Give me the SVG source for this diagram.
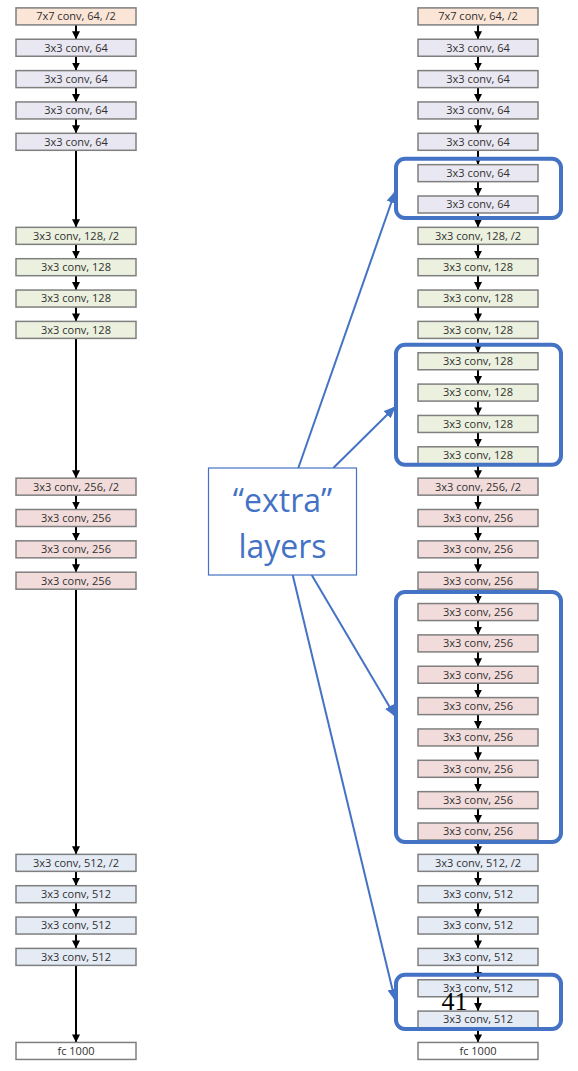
<svg xmlns="http://www.w3.org/2000/svg" width="578" height="1071" viewBox="0 0 578 1071">
<style>
.bx{stroke:#7f7f7f;stroke-width:1.5}
.c7{fill:#fbe5d6}.c64{fill:#e9e7f1}.c128{fill:#ebf1de}.c256{fill:#f2dcdb}.c512{fill:#e4ebf5}.cfc{fill:#ffffff}
.t{font-family:"Open Sans","Liberation Sans",sans-serif;font-size:11px;fill:#303030;text-anchor:middle}
.k{stroke:#000;stroke-width:2;fill:none;marker-end:url(#ah)}
.b{stroke:#4472c4;stroke-width:2;fill:none;marker-end:url(#bh)}
.grp{fill:none;stroke:#4472c4;stroke-width:4}
.lbl{font-family:"Open Sans","Liberation Sans",sans-serif;font-size:32px;fill:#4472c4;text-anchor:middle}
</style>
<defs>
<marker id="ah" markerUnits="userSpaceOnUse" markerWidth="8" markerHeight="8" refX="8" refY="4" orient="auto"><path d="M0,0 L8,4 L0,8 z" fill="#000"/></marker>
<marker id="bh" markerUnits="userSpaceOnUse" markerWidth="12" markerHeight="10" refX="11" refY="5" orient="auto"><path d="M0,0 L12,5 L0,10 z" fill="#4472c4"/></marker>
</defs>
<rect width="578" height="1071" fill="#fff"/>

<g id="connectors">
<g id="left-connectors">
<line class="k" x1="76" y1="24.9" x2="76" y2="39.25"/>
<line class="k" x1="76" y1="56.25" x2="76" y2="70.6"/>
<line class="k" x1="76" y1="87.6" x2="76" y2="101.95"/>
<line class="k" x1="76" y1="118.95" x2="76" y2="133.3"/>
<line class="k" x1="76" y1="150.3" x2="76" y2="227.35"/>
<line class="k" x1="76" y1="244.35" x2="76" y2="258.7"/>
<line class="k" x1="76" y1="275.7" x2="76" y2="290.05"/>
<line class="k" x1="76" y1="307.05" x2="76" y2="321.4"/>
<line class="k" x1="76" y1="338.4" x2="76" y2="478.15"/>
<line class="k" x1="76" y1="495.15" x2="76" y2="509.5"/>
<line class="k" x1="76" y1="526.5" x2="76" y2="540.85"/>
<line class="k" x1="76" y1="557.85" x2="76" y2="572.2"/>
<line class="k" x1="76" y1="589.2" x2="76" y2="854.35"/>
<line class="k" x1="76" y1="871.35" x2="76" y2="885.7"/>
<line class="k" x1="76" y1="902.7" x2="76" y2="917.05"/>
<line class="k" x1="76" y1="934.05" x2="76" y2="948.4"/>
<line class="k" x1="76" y1="965.4" x2="76" y2="1042.45"/>
</g>
<g id="right-connectors">
<line class="k" x1="478" y1="24.9" x2="478" y2="39.25"/>
<line class="k" x1="478" y1="56.25" x2="478" y2="70.6"/>
<line class="k" x1="478" y1="87.6" x2="478" y2="101.95"/>
<line class="k" x1="478" y1="118.95" x2="478" y2="133.3"/>
<line class="k" x1="478" y1="150.3" x2="478" y2="164.65"/>
<line class="k" x1="478" y1="181.65" x2="478" y2="196"/>
<line class="k" x1="478" y1="213" x2="478" y2="227.35"/>
<line class="k" x1="478" y1="244.35" x2="478" y2="258.7"/>
<line class="k" x1="478" y1="275.7" x2="478" y2="290.05"/>
<line class="k" x1="478" y1="307.05" x2="478" y2="321.4"/>
<line class="k" x1="478" y1="338.4" x2="478" y2="352.75"/>
<line class="k" x1="478" y1="369.75" x2="478" y2="384.1"/>
<line class="k" x1="478" y1="401.1" x2="478" y2="415.45"/>
<line class="k" x1="478" y1="432.45" x2="478" y2="446.8"/>
<line class="k" x1="478" y1="463.8" x2="478" y2="478.15"/>
<line class="k" x1="478" y1="495.15" x2="478" y2="509.5"/>
<line class="k" x1="478" y1="526.5" x2="478" y2="540.85"/>
<line class="k" x1="478" y1="557.85" x2="478" y2="572.2"/>
<line class="k" x1="478" y1="589.2" x2="478" y2="603.55"/>
<line class="k" x1="478" y1="620.55" x2="478" y2="634.9"/>
<line class="k" x1="478" y1="651.9" x2="478" y2="666.25"/>
<line class="k" x1="478" y1="683.25" x2="478" y2="697.6"/>
<line class="k" x1="478" y1="714.6" x2="478" y2="728.95"/>
<line class="k" x1="478" y1="745.95" x2="478" y2="760.3"/>
<line class="k" x1="478" y1="777.3" x2="478" y2="791.65"/>
<line class="k" x1="478" y1="808.65" x2="478" y2="823"/>
<line class="k" x1="478" y1="840" x2="478" y2="854.35"/>
<line class="k" x1="478" y1="871.35" x2="478" y2="885.7"/>
<line class="k" x1="478" y1="902.7" x2="478" y2="917.05"/>
<line class="k" x1="478" y1="934.05" x2="478" y2="948.4"/>
<line class="k" x1="478" y1="965.4" x2="478" y2="979.75"/>
<line class="k" x1="478" y1="996.75" x2="478" y2="1011.1"/>
<line class="k" x1="478" y1="1028.1" x2="478" y2="1042.45"/>
</g>
</g>

<g id="left-column">
<g id="L0" transform="translate(16,7.9)"><rect class="bx c7" width="120" height="17"/><text class="t" x="60" y="12.4">7x7 conv, 64, /2</text></g>
<g id="L1" transform="translate(16,39.25)"><rect class="bx c64" width="120" height="17"/><text class="t" x="60" y="12.4">3x3 conv, 64</text></g>
<g id="L2" transform="translate(16,70.6)"><rect class="bx c64" width="120" height="17"/><text class="t" x="60" y="12.4">3x3 conv, 64</text></g>
<g id="L3" transform="translate(16,101.95)"><rect class="bx c64" width="120" height="17"/><text class="t" x="60" y="12.4">3x3 conv, 64</text></g>
<g id="L4" transform="translate(16,133.3)"><rect class="bx c64" width="120" height="17"/><text class="t" x="60" y="12.4">3x3 conv, 64</text></g>
<g id="L5" transform="translate(16,227.35)"><rect class="bx c128" width="120" height="17"/><text class="t" x="60" y="12.4">3x3 conv, 128, /2</text></g>
<g id="L6" transform="translate(16,258.7)"><rect class="bx c128" width="120" height="17"/><text class="t" x="60" y="12.4">3x3 conv, 128</text></g>
<g id="L7" transform="translate(16,290.05)"><rect class="bx c128" width="120" height="17"/><text class="t" x="60" y="12.4">3x3 conv, 128</text></g>
<g id="L8" transform="translate(16,321.4)"><rect class="bx c128" width="120" height="17"/><text class="t" x="60" y="12.4">3x3 conv, 128</text></g>
<g id="L9" transform="translate(16,478.15)"><rect class="bx c256" width="120" height="17"/><text class="t" x="60" y="12.4">3x3 conv, 256, /2</text></g>
<g id="L10" transform="translate(16,509.5)"><rect class="bx c256" width="120" height="17"/><text class="t" x="60" y="12.4">3x3 conv, 256</text></g>
<g id="L11" transform="translate(16,540.85)"><rect class="bx c256" width="120" height="17"/><text class="t" x="60" y="12.4">3x3 conv, 256</text></g>
<g id="L12" transform="translate(16,572.2)"><rect class="bx c256" width="120" height="17"/><text class="t" x="60" y="12.4">3x3 conv, 256</text></g>
<g id="L13" transform="translate(16,854.35)"><rect class="bx c512" width="120" height="17"/><text class="t" x="60" y="12.4">3x3 conv, 512, /2</text></g>
<g id="L14" transform="translate(16,885.7)"><rect class="bx c512" width="120" height="17"/><text class="t" x="60" y="12.4">3x3 conv, 512</text></g>
<g id="L15" transform="translate(16,917.05)"><rect class="bx c512" width="120" height="17"/><text class="t" x="60" y="12.4">3x3 conv, 512</text></g>
<g id="L16" transform="translate(16,948.4)"><rect class="bx c512" width="120" height="17"/><text class="t" x="60" y="12.4">3x3 conv, 512</text></g>
<g id="L17" transform="translate(16,1042.45)"><rect class="bx cfc" width="120" height="17"/><text class="t" x="60" y="12.4">fc 1000</text></g>
</g>

<g id="right-column">
<g id="R0" transform="translate(418,7.9)"><rect class="bx c7" width="120" height="17"/><text class="t" x="60" y="12.4">7x7 conv, 64, /2</text></g>
<g id="R1" transform="translate(418,39.25)"><rect class="bx c64" width="120" height="17"/><text class="t" x="60" y="12.4">3x3 conv, 64</text></g>
<g id="R2" transform="translate(418,70.6)"><rect class="bx c64" width="120" height="17"/><text class="t" x="60" y="12.4">3x3 conv, 64</text></g>
<g id="R3" transform="translate(418,101.95)"><rect class="bx c64" width="120" height="17"/><text class="t" x="60" y="12.4">3x3 conv, 64</text></g>
<g id="R4" transform="translate(418,133.3)"><rect class="bx c64" width="120" height="17"/><text class="t" x="60" y="12.4">3x3 conv, 64</text></g>
<g id="R5" transform="translate(418,164.65)"><rect class="bx c64" width="120" height="17"/><text class="t" x="60" y="12.4">3x3 conv, 64</text></g>
<g id="R6" transform="translate(418,196)"><rect class="bx c64" width="120" height="17"/><text class="t" x="60" y="12.4">3x3 conv, 64</text></g>
<g id="R7" transform="translate(418,227.35)"><rect class="bx c128" width="120" height="17"/><text class="t" x="60" y="12.4">3x3 conv, 128, /2</text></g>
<g id="R8" transform="translate(418,258.7)"><rect class="bx c128" width="120" height="17"/><text class="t" x="60" y="12.4">3x3 conv, 128</text></g>
<g id="R9" transform="translate(418,290.05)"><rect class="bx c128" width="120" height="17"/><text class="t" x="60" y="12.4">3x3 conv, 128</text></g>
<g id="R10" transform="translate(418,321.4)"><rect class="bx c128" width="120" height="17"/><text class="t" x="60" y="12.4">3x3 conv, 128</text></g>
<g id="R11" transform="translate(418,352.75)"><rect class="bx c128" width="120" height="17"/><text class="t" x="60" y="12.4">3x3 conv, 128</text></g>
<g id="R12" transform="translate(418,384.1)"><rect class="bx c128" width="120" height="17"/><text class="t" x="60" y="12.4">3x3 conv, 128</text></g>
<g id="R13" transform="translate(418,415.45)"><rect class="bx c128" width="120" height="17"/><text class="t" x="60" y="12.4">3x3 conv, 128</text></g>
<g id="R14" transform="translate(418,446.8)"><rect class="bx c128" width="120" height="17"/><text class="t" x="60" y="12.4">3x3 conv, 128</text></g>
<g id="R15" transform="translate(418,478.15)"><rect class="bx c256" width="120" height="17"/><text class="t" x="60" y="12.4">3x3 conv, 256, /2</text></g>
<g id="R16" transform="translate(418,509.5)"><rect class="bx c256" width="120" height="17"/><text class="t" x="60" y="12.4">3x3 conv, 256</text></g>
<g id="R17" transform="translate(418,540.85)"><rect class="bx c256" width="120" height="17"/><text class="t" x="60" y="12.4">3x3 conv, 256</text></g>
<g id="R18" transform="translate(418,572.2)"><rect class="bx c256" width="120" height="17"/><text class="t" x="60" y="12.4">3x3 conv, 256</text></g>
<g id="R19" transform="translate(418,603.55)"><rect class="bx c256" width="120" height="17"/><text class="t" x="60" y="12.4">3x3 conv, 256</text></g>
<g id="R20" transform="translate(418,634.9)"><rect class="bx c256" width="120" height="17"/><text class="t" x="60" y="12.4">3x3 conv, 256</text></g>
<g id="R21" transform="translate(418,666.25)"><rect class="bx c256" width="120" height="17"/><text class="t" x="60" y="12.4">3x3 conv, 256</text></g>
<g id="R22" transform="translate(418,697.6)"><rect class="bx c256" width="120" height="17"/><text class="t" x="60" y="12.4">3x3 conv, 256</text></g>
<g id="R23" transform="translate(418,728.95)"><rect class="bx c256" width="120" height="17"/><text class="t" x="60" y="12.4">3x3 conv, 256</text></g>
<g id="R24" transform="translate(418,760.3)"><rect class="bx c256" width="120" height="17"/><text class="t" x="60" y="12.4">3x3 conv, 256</text></g>
<g id="R25" transform="translate(418,791.65)"><rect class="bx c256" width="120" height="17"/><text class="t" x="60" y="12.4">3x3 conv, 256</text></g>
<g id="R26" transform="translate(418,823)"><rect class="bx c256" width="120" height="17"/><text class="t" x="60" y="12.4">3x3 conv, 256</text></g>
<g id="R27" transform="translate(418,854.35)"><rect class="bx c512" width="120" height="17"/><text class="t" x="60" y="12.4">3x3 conv, 512, /2</text></g>
<g id="R28" transform="translate(418,885.7)"><rect class="bx c512" width="120" height="17"/><text class="t" x="60" y="12.4">3x3 conv, 512</text></g>
<g id="R29" transform="translate(418,917.05)"><rect class="bx c512" width="120" height="17"/><text class="t" x="60" y="12.4">3x3 conv, 512</text></g>
<g id="R30" transform="translate(418,948.4)"><rect class="bx c512" width="120" height="17"/><text class="t" x="60" y="12.4">3x3 conv, 512</text></g>
<g id="R31" transform="translate(418,979.75)"><rect class="bx c512" width="120" height="17"/><text class="t" x="60" y="12.4">3x3 conv, 512</text></g>
<g id="R32" transform="translate(418,1011.1)"><rect class="bx c512" width="120" height="17"/><text class="t" x="60" y="12.4">3x3 conv, 512</text></g>
<g id="R33" transform="translate(418,1042.45)"><rect class="bx cfc" width="120" height="17"/><text class="t" x="60" y="12.4">fc 1000</text></g>
</g>

<g id="extra-groups">
<rect class="grp" x="396" y="158.7" width="165" height="59.3" rx="9"/>
<rect class="grp" x="396" y="344.7" width="165" height="120" rx="9"/>
<rect class="grp" x="396" y="592" width="165" height="250" rx="9"/>
<rect class="grp" x="396" y="974.7" width="165" height="54.3" rx="9"/>
</g>

<g id="label-arrows">
<line class="b" x1="298.3" y1="468" x2="395" y2="192"/>
<line class="b" x1="333.3" y1="468" x2="395" y2="407"/>
<line class="b" x1="311.7" y1="575" x2="395" y2="716"/>
<line class="b" x1="292.7" y1="575" x2="395" y2="1000"/>
</g>

<g id="extra-label">
<rect x="208.5" y="468" width="148" height="107" fill="#fff" stroke="#4472c4" stroke-width="1.2"/>
<text class="lbl" x="282.5" y="512">“extra”</text>
<text class="lbl" x="282.5" y="558">layers</text>
</g>

<text x="441.5" y="1010" font-family="'Liberation Serif',serif" font-size="26" fill="#000">41</text>
</svg>
